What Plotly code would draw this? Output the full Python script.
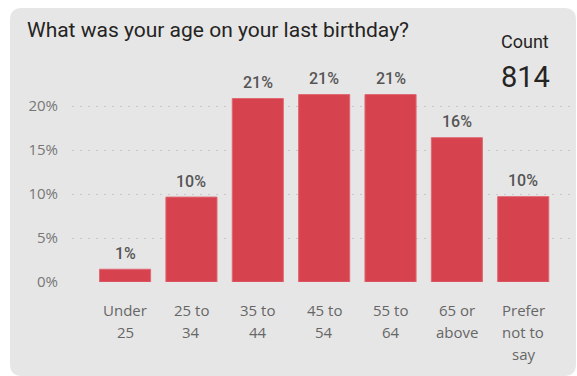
import plotly.graph_objects as go

# ---- data ----
categories = ["Under 25", "25 to 34", "35 to 44", "45 to 54", "55 to 64", "65 or above", "Prefer not to say"]
tick_lines = [["Under", "25"], ["25 to", "34"], ["35 to", "44"], ["45 to", "54"],
              ["55 to", "64"], ["65 or", "above"], ["Prefer", "not to", "say"]]
values = [1.45, 9.65, 20.85, 21.3, 21.3, 16.4, 9.7]
value_labels = ["1%", "10%", "21%", "21%", "21%", "16%", "10%"]
y_ticks = [0, 5, 10, 15, 20]
y_tick_labels = ["0%", "5%", "10%", "15%", "20%"]
title_text = "What was your age on your last birthday?"
count_label = "Count"
count_value = "814"

W, H = 577, 376
BAR = "#D6434F"
PANEL = "#E6E6E6"

fig = go.Figure()
fig.add_trace(go.Bar(
    x=list(range(len(categories))), y=values,
    marker=dict(color=BAR, line=dict(color="#E06872", width=1)),
    hoverinfo="skip", showlegend=False,
))

def px(x):
    return x / W

def py(y):
    return 1 - y / H

# rounded panel
x0, x1, y0, y1 = px(10), px(576), py(8), py(376)
rx, ry = 12 / W, 12 / H
panel_path = (f"M {x0+rx},{y0} L {x1-rx},{y0} Q {x1},{y0} {x1},{y0-ry} "
              f"L {x1},{y1+ry} Q {x1},{y1} {x1-rx},{y1} "
              f"L {x0+rx},{y1} Q {x0},{y1} {x0},{y1+ry} L {x0},{y0-ry} Q {x0},{y0} {x0+rx},{y0} Z")
fig.add_shape(type="path", path=panel_path, xref="paper", yref="paper",
              fillcolor=PANEL, line=dict(width=0), layer="below")

annotations = []
# data labels
for i, (v, t) in enumerate(zip(values, value_labels)):
    annotations.append(dict(x=i, y=v, xref="x", yref="y", text=t, showarrow=False,
                            yanchor="middle", yshift=16,
                            font=dict(family="Roboto", size=16, color="#555555", weight=500)))
# category labels (one annotation per line for Power BI-like line spacing)
for i, lines in enumerate(tick_lines):
    for j, ln in enumerate(lines):
        annotations.append(dict(x=i, y=0, xref="x", yref="y", text=ln, showarrow=False,
                                yanchor="middle", yshift=-(28 + 22 * j),
                                font=dict(family="Open Sans", size=15, color="#666666")))
# title and card
annotations.append(dict(x=px(25), y=py(30), xref="paper", yref="paper", text=title_text,
                        showarrow=False, xanchor="left", yanchor="middle",
                        font=dict(family="Roboto", size=21, color="#252423")))
annotations.append(dict(x=px(525), y=py(42), xref="paper", yref="paper", text=count_label,
                        showarrow=False, xanchor="center", yanchor="middle",
                        font=dict(family="Roboto", size=18, color="#252423")))
annotations.append(dict(x=px(525), y=py(77), xref="paper", yref="paper", text=count_value,
                        showarrow=False, xanchor="center", yanchor="middle",
                        font=dict(family="Roboto", size=29, color="#252423")))

fig.update_layout(
    width=W, height=H,
    margin=dict(l=0, r=0, t=0, b=0, pad=0, autoexpand=False),
    paper_bgcolor="white", plot_bgcolor="rgba(0,0,0,0)",
    bargap=0.23,
    annotations=annotations,
    xaxis=dict(domain=[px(72), px(575)], range=[-0.80, 6.78], automargin=False,
               showticklabels=False, showgrid=False, zeroline=False, showline=False,
               fixedrange=True),
    yaxis=dict(domain=[py(282), py(62)], range=[0, 25], automargin=False,
               tickvals=y_ticks, ticktext=y_tick_labels,
               tickfont=dict(family="Open Sans", size=15, color="#777777"),
               ticklabelstandoff=13,
               showgrid=True, gridcolor="#C8C8C8", gridwidth=1, griddash="2px,6px",
               zeroline=False, showline=False, fixedrange=True),
)

fig.write_html("out.html", config={"displayModeBar": False},
               post_script="document.body.style.margin='0';document.body.style.overflow='hidden';")
